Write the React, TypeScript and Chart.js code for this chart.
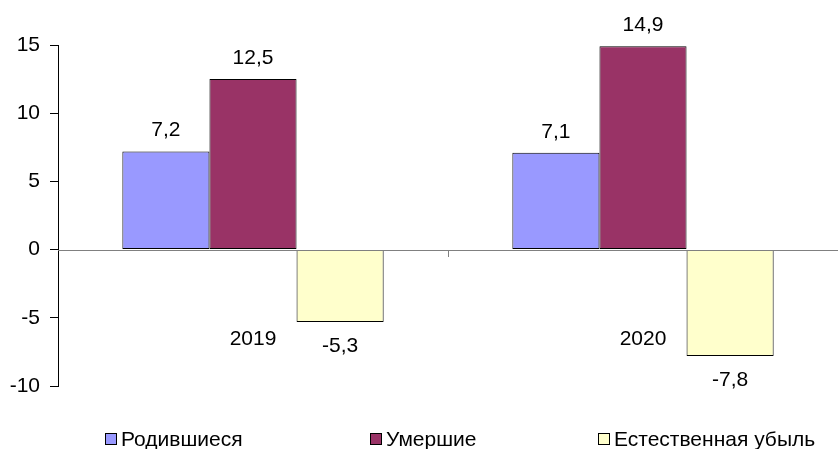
import React, { useEffect, useRef } from "react";
import { Chart, registerables } from "chart.js";

Chart.register(...registerables);

const categories = ["2019", "2020"];
const seriesNames = ["Родившиеся", "Умершие", "Естественная убыль"];
const born = [7.2, 7.1];
const died = [12.5, 14.9];
const naturalDecline = [-5.3, -7.8];
const yTicks = [-10, -5, 0, 5, 10, 15];

const colors = ["#9999FF", "#993366", "#FFFFCC"];
const FONT = "'Liberation Sans', Arial, sans-serif";
const FONT_SIZE = 21;

const fmt = (v: number) => String(v).replace(".", ",");

const overlayPlugin = {
  id: "overlay",
  afterDatasetsDraw(chart: any) {
    const { ctx, chartArea } = chart;
    const x = chart.scales.x;
    const y = chart.scales.y;
    const y0 = y.getPixelForValue(0);
    ctx.save();
    // zero line
    ctx.strokeStyle = "#808080";
    ctx.lineWidth = 1;
    ctx.beginPath();
    ctx.moveTo(chartArea.left, Math.round(y0) + 0.5);
    ctx.lineTo(chartArea.right, Math.round(y0) + 0.5);
    ctx.stroke();
    // middle category tick
    for (let i = 0; i < categories.length - 1; i++) {
      const mx = Math.round((x.getPixelForValue(i) + x.getPixelForValue(i + 1)) / 2) + 0.5;
      ctx.beginPath();
      ctx.moveTo(mx, Math.round(y0));
      ctx.lineTo(mx, Math.round(y0) + 7);
      ctx.stroke();
    }
    // category labels
    ctx.fillStyle = "#000";
    ctx.font = `${FONT_SIZE}px ${FONT}`;
    ctx.textAlign = "center";
    ctx.textBaseline = "middle";
    categories.forEach((c, i) => {
      ctx.fillText(c, x.getPixelForValue(i), y.getPixelForValue(-6.5) + 1);
    });
    // data labels
    chart.data.datasets.forEach((ds: any, di: number) => {
      const meta = chart.getDatasetMeta(di);
      meta.data.forEach((el: any, i: number) => {
        const v = ds.data[i];
        const ty = v >= 0 ? el.y - 21 : el.y + 24;
        ctx.fillText(fmt(v), el.x, ty);
      });
    });
    // legend
    const legendX = [0.1253, 0.4415, 0.7136];
    const ly = 439;
    ctx.textAlign = "left";
    seriesNames.forEach((n, i) => {
      const lx = Math.round(chart.width * legendX[i]);
      ctx.fillStyle = colors[i];
      ctx.fillRect(lx, ly - 6, 12, 12);
      ctx.strokeStyle = "#000";
      ctx.strokeRect(lx + 0.5, ly - 5.5, 11, 11);
      ctx.fillStyle = "#000";
      ctx.fillText(n, lx + 16, ly + 1);
    });
    ctx.restore();
  },
};

export default function App() {
  const ref = useRef<HTMLCanvasElement>(null);
  useEffect(() => {
    document.body.style.margin = "0";
    const chart = new Chart(ref.current!, {
      type: "bar",
      data: {
        labels: categories,
        datasets: [born, died, naturalDecline].map((d, i) => ({
          label: seriesNames[i],
          data: d,
          backgroundColor: colors[i],
          borderColor: "#000",
          borderWidth: 1,
          borderSkipped: false,
          barPercentage: 1,
          categoryPercentage: 0.67,
        })),
      },
      options: {
        animation: false,
        responsive: false,
        layout: { padding: { top: 45, bottom: 63, right: 0, left: 0 } },
        plugins: { legend: { display: false }, tooltip: { enabled: false } },
        scales: {
          x: { display: false },
          y: {
            min: -10,
            max: 15,
            afterFit(scale: any) {
              scale.width = 58;
            },
            afterBuildTicks(scale: any) {
              scale.ticks = yTicks.map((v) => ({ value: v }));
            },
            border: { display: true, color: "#000", width: 1 },
            grid: {
              drawOnChartArea: false,
              drawTicks: true,
              tickLength: 8,
              tickColor: "#000",
            },
            ticks: {
              color: "#000",
              font: { family: FONT, size: FONT_SIZE },
              padding: 10,
            },
          },
        },
      },
      plugins: [overlayPlugin],
    });
    return () => chart.destroy();
  }, []);
  return (
    <div style={{ position: "absolute", left: 0, top: 0, width: 838, height: 449 }}>
      <canvas ref={ref} width={838} height={449} style={{ width: 838, height: 449 }} />
    </div>
  );
}
